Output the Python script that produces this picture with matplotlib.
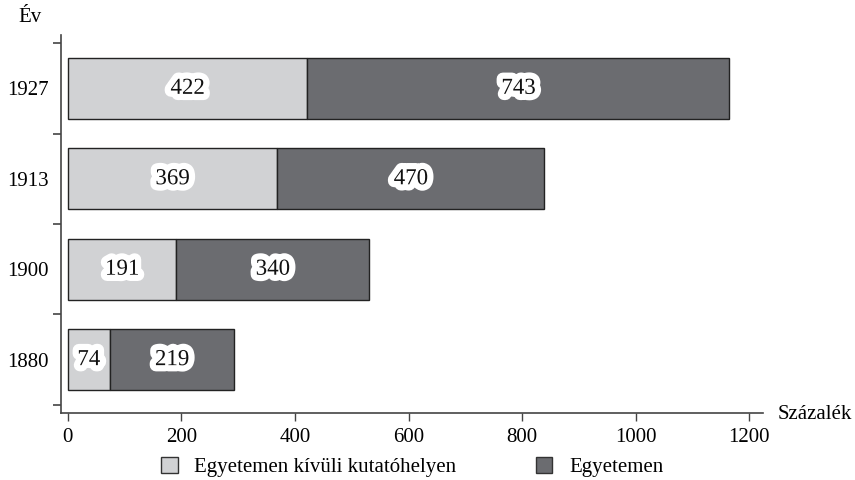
import matplotlib.pyplot as plt
import matplotlib.patheffects as pe
from matplotlib.patches import Patch

years = ['1880', '1900', '1913', '1927']
outside = [74, 191, 369, 422]
university = [219, 340, 470, 743]
xticks = [0, 200, 400, 600, 800, 1000, 1200]

light = '#d1d2d4'
dark = '#6b6c70'

plt.rcParams['font.family'] = ['Liberation Serif', 'DejaVu Serif']
plt.rcParams['font.size'] = 15

fig = plt.figure(figsize=(8.55, 4.8), dpi=100)
ax = fig.add_axes([0.0713, 0.1396, 0.8211, 0.7875])

pos = list(range(len(years)))
ax.barh(pos, outside, height=0.675, color=light, edgecolor='#222222', linewidth=1)
ax.barh(pos, university, left=outside, height=0.675, color=dark, edgecolor='#222222', linewidth=1)

# szamok feher kerettel a savok kozepen
halo = [pe.withStroke(linewidth=9, foreground='white')]
for i in pos:
    ax.text(outside[i] / 2, i, str(outside[i]), ha='center', va='center',
            color='#111111', fontsize=16.5, path_effects=halo)
    ax.text(outside[i] + university[i] / 2, i, str(university[i]), ha='center', va='center',
            color='#111111', fontsize=16.5, path_effects=halo)

ax.set_xlim(-12, 1224)
ax.set_ylim(-0.59, 3.59)
ax.set_xticks(xticks)
ax.set_yticks(pos)
ax.set_yticklabels(years)
ax.set_yticks([-0.5, 0.5, 1.5, 2.5, 3.5], minor=True)
ax.tick_params(axis='y', which='major', length=0, pad=9)
ax.tick_params(axis='y', which='minor', length=6, width=1.2, color='#444444')
ax.tick_params(axis='x', length=6, width=1, color='#444444', pad=5)

for s in ['top', 'right']:
    ax.spines[s].set_visible(False)
for s in ['left', 'bottom']:
    ax.spines[s].set_color('#444444')
    ax.spines[s].set_linewidth(1.2)

fig.text(0.022, 0.964, 'Év', ha='left', va='center')
fig.text(0.91, 0.136, 'Százalék', ha='left', va='center')

handles = [Patch(facecolor=light, edgecolor='#333333'),
           Patch(facecolor=dark, edgecolor='#333333')]
fig.legend(handles, ['Egyetemen kívüli kutatóhelyen', 'Egyetemen'],
           loc='center', bbox_to_anchor=(0.482, 0.027), ncol=2, frameon=False,
           handlelength=0.8, handleheight=0.8, columnspacing=3.8, handletextpad=0.8)

fig.savefig('out.png', dpi=100)
